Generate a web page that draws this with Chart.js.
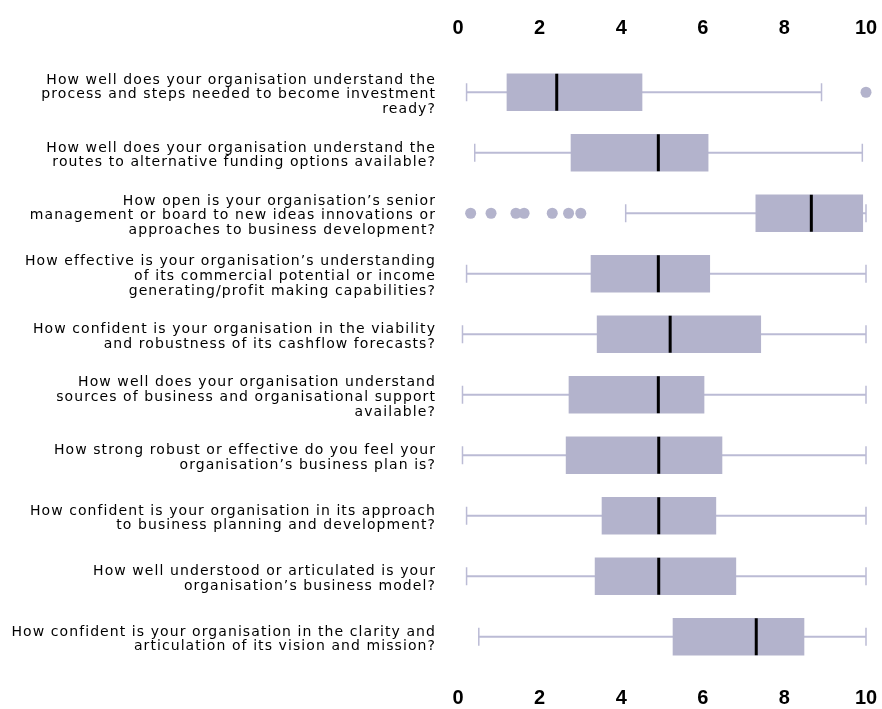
<!DOCTYPE html>
<html>
<head>
<meta charset="utf-8">
<script src="https://cdn.jsdelivr.net/npm/chart.js@4/dist/chart.umd.min.js"></script>
<style>
  html, body { margin: 0; padding: 0; background: #ffffff; }
  #wrap { width: 882px; height: 709px; }
</style>
</head>
<body>
<div id="wrap"><canvas id="chart" width="882" height="709"></canvas></div>
<script>
// Survey questions (one multi-line label per row)
const questions = [
  ["How well does your organisation understand the", "process and steps needed to become investment", "ready?"],
  ["How well does your organisation understand the", "routes to alternative funding options available?"],
  ["How open is your organisation\u2019s senior", "management or board to new ideas innovations or", "approaches to business development?"],
  ["How effective is your organisation\u2019s understanding", "of its commercial potential or income", "generating/profit making capabilities?"],
  ["How confident is your organisation in the viability", "and robustness of its cashflow forecasts?"],
  ["How well does your organisation understand", "sources of business and organisational support", "available?"],
  ["How strong robust or effective do you feel your", "organisation\u2019s business plan is?"],
  ["How confident is your organisation in its approach", "to business planning and development?"],
  ["How well understood or articulated is your", "organisation\u2019s business model?"],
  ["How confident is your organisation in the clarity and", "articulation of its vision and mission?"]
];

// Five-number summaries per question (0-10 rating scale)
const whiskerLow  = [0.21, 0.41, 4.11, 0.21, 0.11, 0.11, 0.11, 0.21, 0.21, 0.51];
const lowerQuart  = [1.20, 2.77, 7.30, 3.26, 3.41, 2.72, 2.65, 3.53, 3.36, 5.27];
const medians     = [2.42, 4.91, 8.66, 4.91, 5.20, 4.91, 4.92, 4.92, 4.92, 7.31];
const upperQuart  = [4.51, 6.13, 9.92, 6.17, 7.42, 6.03, 6.47, 6.32, 6.81, 8.48];
const whiskerHigh = [8.91, 9.91, 10.0, 10.0, 10.0, 10.0, 10.0, 10.0, 10.0, 10.0];

// Outlying responses: [row index, value]
const outlierRows   = [0, 2, 2, 2, 2, 2, 2, 2];
const outlierValues = [10.0, 0.31, 0.81, 1.42, 1.62, 2.31, 2.71, 3.01];

// Axis ticks
const tickValues = [0, 2, 4, 6, 8, 10];

const BOX_COLOR = '#b3b3cc';
const WHISKER_COLOR = '#bbbbd5';

const boxes = questions.map((_, i) => [lowerQuart[i], upperQuart[i]]);
const whiskers = questions.map((_, i) => [whiskerLow[i], whiskerHigh[i]]);

// Draws whisker caps, median bars and outlier dots on top of the bars
const boxExtras = {
  id: 'boxExtras',
  afterLayout(chart) {
    // question labels are drawn with a little extra tracking
    const s = chart.scales.y;
    if (!s._tracked) {
      const orig = s.drawLabels.bind(s);
      s.drawLabels = function (area) {
        const c = this.ctx;
        c.save();
        c.letterSpacing = '1.08px';
        c.translate(0, 2.5);
        orig(area);
        c.restore();
      };
      s._tracked = true;
    }
  },
  afterDatasetsDraw(chart) {
    const ctx = chart.ctx;
    const xs = chart.scales.x;
    const ys = chart.scales.y;
    const boxMeta = chart.getDatasetMeta(0);
    ctx.save();
    // whisker caps
    ctx.strokeStyle = WHISKER_COLOR;
    ctx.lineWidth = 1.5;
    const capHalf = 9;
    questions.forEach((_, i) => {
      const cy = ys.getPixelForValue(i);
      [whiskerLow[i], whiskerHigh[i]].forEach(v => {
        const px = xs.getPixelForValue(v);
        ctx.beginPath();
        ctx.moveTo(px, cy - capHalf);
        ctx.lineTo(px, cy + capHalf);
        ctx.stroke();
      });
    });
    // medians
    ctx.strokeStyle = '#000000';
    ctx.lineWidth = 3;
    questions.forEach((_, i) => {
      const el = boxMeta.data[i];
      const px = xs.getPixelForValue(medians[i]);
      ctx.beginPath();
      ctx.moveTo(px, el.y - el.height / 2);
      ctx.lineTo(px, el.y + el.height / 2);
      ctx.stroke();
    });
    // outliers
    ctx.fillStyle = BOX_COLOR;
    outlierValues.forEach((v, k) => {
      const px = xs.getPixelForValue(v);
      const py = ys.getPixelForValue(outlierRows[k]);
      ctx.beginPath();
      ctx.arc(px, py, 5.5, 0, Math.PI * 2);
      ctx.fill();
    });
    ctx.restore();
  }
};

const tickFont = { family: "'Liberation Sans', Arial, sans-serif", size: 20, weight: 'bold' };

function clearPadding(scale) {
  scale.paddingLeft = 0;
  scale.paddingRight = 0;
  scale.paddingTop = 0;
  scale.paddingBottom = 0;
}

const xAxisCommon = {
  min: 0,
  max: 10,
  grid: { display: false, drawTicks: false },
  border: { display: false },
  afterBuildTicks(scale) { scale.ticks = tickValues.map(v => ({ value: v })); },
  ticks: { color: '#000000', font: tickFont, maxRotation: 0 }
};

new Chart(document.getElementById('chart'), {
  type: 'bar',
  data: {
    labels: questions,
    datasets: [
      {
        label: 'Interquartile range',
        data: boxes,
        backgroundColor: BOX_COLOR,
        borderWidth: 0,
        borderSkipped: false,
        barThickness: 37,
        grouped: false,
        xAxisID: 'x',
        yAxisID: 'y'
      },
      {
        label: 'Whisker',
        data: whiskers,
        backgroundColor: WHISKER_COLOR,
        borderWidth: 0,
        borderSkipped: false,
        barThickness: 1.5,
        grouped: false,
        xAxisID: 'x',
        yAxisID: 'y'
      }
    ]
  },
  options: {
    indexAxis: 'y',
    responsive: false,
    animation: false,
    devicePixelRatio: 1,
    layout: { padding: { left: 0, right: 16, top: 0, bottom: 0 } },
    plugins: { legend: { display: false }, tooltip: { enabled: false } },
    scales: {
      x: Object.assign({}, xAxisCommon, {
        position: 'top',
        afterFit(scale) { scale.height = 62; clearPadding(scale); },
        ticks: Object.assign({}, xAxisCommon.ticks, { padding: 22 })
      }),
      x2: Object.assign({}, xAxisCommon, {
        position: 'bottom',
        afterFit(scale) { scale.height = 42; clearPadding(scale); },
        ticks: Object.assign({}, xAxisCommon.ticks, { padding: 19 })
      }),
      y: {
        type: 'category',
        position: 'left',
        grid: { display: false, drawTicks: false },
        border: { display: false },
        afterFit(scale) { scale.width = 458; clearPadding(scale); },
        ticks: {
          color: '#000000',
          padding: 22,
          autoSkip: false,
          font: { family: "'DejaVu Sans', sans-serif", size: 14, lineHeight: 1.05 }
        }
      }
    }
  },
  plugins: [boxExtras]
});
</script>
</body>
</html>
